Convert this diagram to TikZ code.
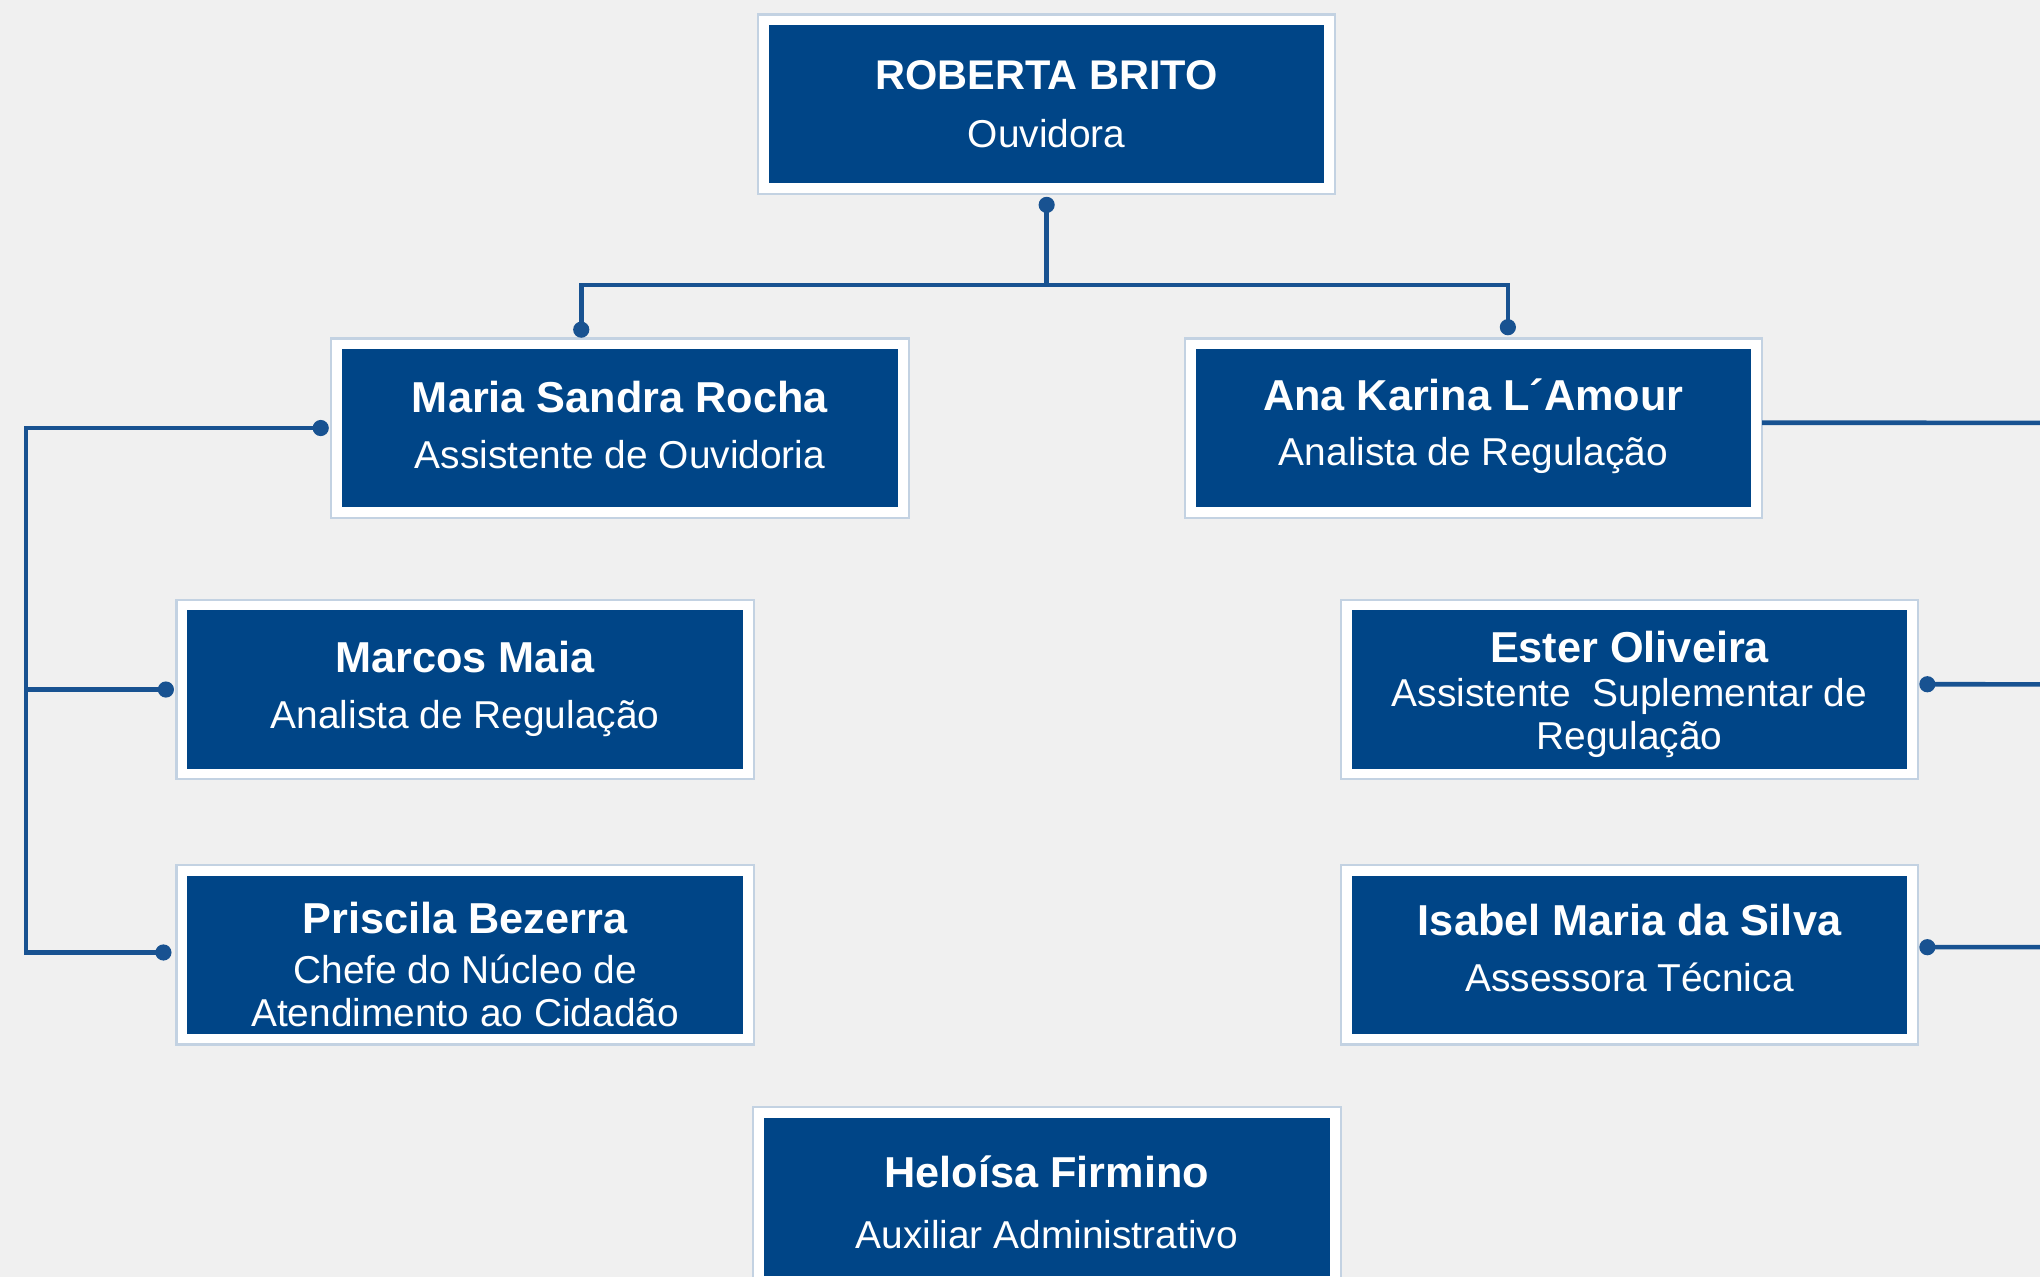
\documentclass[tikz,border=0pt]{standalone}
\usepackage{fontspec}
\setmainfont{Liberation Sans}
\usetikzlibrary{backgrounds,calc}
\definecolor{boxblue}{RGB}{0,69,135}
\definecolor{linkblue}{RGB}{24,82,145}
\definecolor{framegrey}{RGB}{195,210,226}
\definecolor{pagebg}{RGB}{240,240,240}
\newcommand\nm[1]{{\fontsize{12.3}{12.5}\selectfont\bfseries #1}}
\newcommand\nmtop[1]{{\fontsize{11.8}{12.5}\selectfont\bfseries #1}}
\begin{document}
\begin{tikzpicture}[x=0.013cm,y=-0.013cm,
  person/.style={fill=boxblue, inner sep=0pt,
    minimum width=5.551cm, minimum height=1.586cm},
  txt/.style={text=white, inner sep=0pt, align=center,
    font=\fontsize{11.05}{12.5}\selectfont},
  conn/.style={draw=linkblue, line width=1.3pt},
  dot/.style={fill=linkblue},
  frame/.style={draw=framegrey, fill=white, line width=0.6pt}]
\useasboundingbox (0,0) rectangle (1568,981);

% boxes
\node[person] (rb) at (804.5,80) {};
\node[person] (ms) at (476.5,329) {};
\node[person] (ak) at (1132.5,329) {};
\node[person] (mm) at (357.5,530) {};
\node[person] (pb) at (357.5,734) {};
\node[person] (eo) at (1252.5,530) {};
\node[person] (is) at (1252.5,734) {};
\node[person, minimum width=5.655cm] (hf) at (804.5,920) {};

% texts
\node[txt] (rbt) at (rb.center) {\nmtop{ROBERTA BRITO}\\[3.9pt]Ouvidora};
\node[txt] (mst) at ($(ms.center)+(0,-2.5)$) {\nm{Maria Sandra Rocha}\\[3.3pt]Assistente de Ouvidoria};
\node[txt] (akt) at ($(ak.center)+(0,-1.5)$) {\nm{Ana Karina L´Amour}\\[3.3pt]Analista de Regulação};
\node[txt] (mmt) at ($(mm.center)+(0,-0.5)$) {\nm{Marcos Maia}\\[3.3pt]Analista de Regulação};
\node[txt] (pbt) at ($(pb.center)+(0,7.5)$) {\nm{Priscila Bezerra}\\[1.6pt]Chefe do Núcleo de\\[-0.3pt]Atendimento ao Cidadão};
\node[txt] (eot) at ($(eo.center)+(0,3.5)$) {\nm{Ester Oliveira}\\[0.1pt]Assistente\ \ Suplementar de\\[-0.3pt]Regulação};
\node[txt] (ist) at ($(is.center)+(0,-5.5)$) {\nm{Isabel Maria da Silva}\\[3.3pt]Assessora Técnica};
\node[txt] (hft) at ($(hf.center)+(0,4)$) {\nm{Heloísa Firmino}\\[5.0pt]Auxiliar Administrativo};

% background and frames
\begin{scope}[on background layer]
  \fill[pagebg] (-10,-10) rectangle (1600,1000);
  \foreach \n in {rb,ms,ak,mm,pb,eo,is,hf}
    \draw[frame] ([shift={(-2.9pt,2.7pt)}]\n.north west) rectangle ([shift={(2.9pt,-2.7pt)}]\n.south east);
\end{scope}

% connector points
\coordinate (rbD) at ([yshift=-5.9pt]rb.south);
\coordinate (bus) at (804.5,219);
\coordinate (msT) at ([xshift=-11pt,yshift=5.2pt]ms.north);
\coordinate (akT) at ([xshift=9.8pt,yshift=5.9pt]ak.north);
\coordinate (msL) at ([xshift=-5.9pt]ms.west);
\coordinate (lx) at (20,329);
\coordinate (mmL) at ([xshift=-5.9pt]mm.west);
\coordinate (pbL) at ([xshift=-6.6pt,yshift=0.7pt]pb.west);
\coordinate (akR) at ([xshift=2.9pt,yshift=1.5pt]ak.east);
\coordinate (eoR) at ([xshift=5.5pt,yshift=1.5pt]eo.east);
\coordinate (isR) at ([xshift=5.5pt,yshift=2.2pt]is.east);
\coordinate (edgeA) at (1580,325);
\coordinate (edgeB) at (1580,526);
\coordinate (edgeC) at (1580,728);

% connectors
\draw[conn] (rbD) -- (bus) -| (msT);
\draw[conn] (bus) -| (akT);
\draw[conn] (msL) -- (lx) |- (pbL);
\draw[conn] (mmL) -- (mmL -| lx);
\draw[conn] (akR) -- (edgeA);
\draw[conn] (eoR) -- (edgeB);
\draw[conn] (isR) -- (edgeC);

% dots
\foreach \p in {rbD,msT,akT,msL,mmL,pbL,eoR,isR}
  \fill[dot] (\p) circle (2.3pt);
\end{tikzpicture}
\end{document}
